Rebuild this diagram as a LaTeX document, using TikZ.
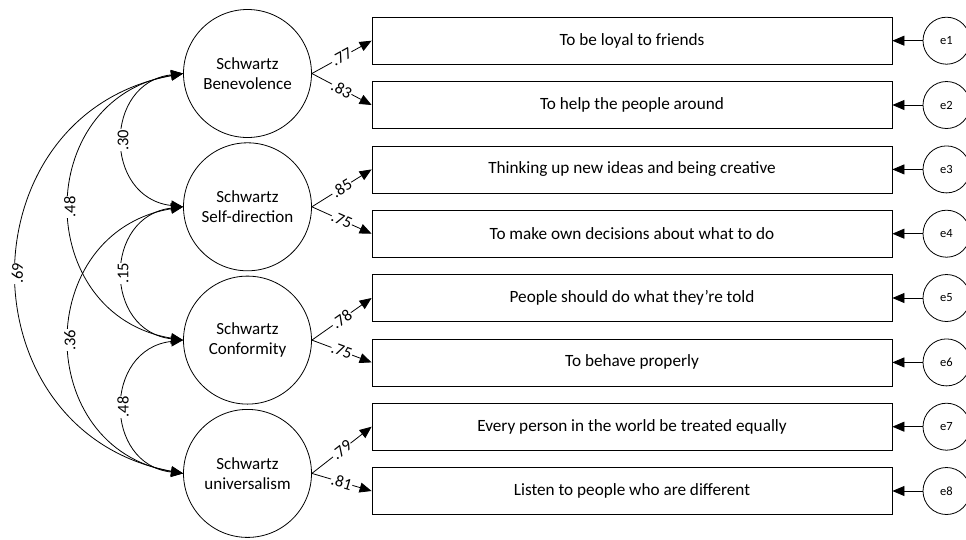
\documentclass[tikz,border=0pt]{standalone}
\usepackage{fontspec}
\setmainfont{Carlito}
\usetikzlibrary{arrows.meta}
\begin{document}
\begin{tikzpicture}[x=1pt,y=-1pt,
  latent/.style={circle, draw, line width=0.8pt, minimum size=128pt, inner sep=0pt,
    align=center, font=\fontsize{17}{20.5}\selectfont},
  item/.style={rectangle, draw, line width=0.8pt, minimum width=520pt, minimum height=47pt,
    inner sep=0pt, font=\fontsize{17.2}{20}\selectfont},
  err/.style={circle, draw, line width=0.8pt, minimum size=47pt, inner sep=0pt,
    font=\fontsize{12.5}{14}\selectfont},
  loading/.style={line width=0.8pt, -{Triangle[length=12pt,width=10pt]}},
  cov/.style={line width=0.8pt, {Triangle[length=12pt,width=10pt]}-{Triangle[length=12pt,width=10pt]}},
  coef/.style={fill=white, inner sep=0.5pt, font=\fontsize{16.5}{17}\selectfont},
]
\clip (0,0) rectangle (966,539);

% latent factors
\node[latent] (f1) at (247.5,73.5)  {Schwartz\\Benevolence};
\node[latent] (f2) at (247.5,206.8) {Schwartz\\Self-direction};
\node[latent] (f3) at (247.5,340.1) {Schwartz\\Conformity};
\node[latent] (f4) at (247.5,473.4) {Schwartz\\universalism};

% observed items
\node[item] (i1) at (632,40.7)  {To be loyal to friends};
\node[item] (i2) at (632,105)   {To help the people around};
\node[item] (i3) at (632,169.4) {Thinking up new ideas and being creative};
\node[item] (i4) at (632,233.7) {To make own decisions about what to do};
\node[item] (i5) at (632,298)   {People should do what they're told};
\node[item] (i6) at (632,362.4) {To behave properly};
\node[item] (i7) at (632,426.7) {Every person in the world be treated equally};
\node[item] (i8) at (632,491)   {Listen to people who are different};

% error terms
\foreach \k/\y in {1/40.7,2/105,3/169.4,4/233.7,5/298,6/362.4,7/426.7,8/491}{
  \node[err] (e\k) at (946.5,\y) {e\k};
  \draw[loading] (e\k.west) -- (i\k.east);
}

% factor loadings
\draw[loading] (f1.east) -- (i1.west) node[coef, sloped, midway] {.77};
\draw[loading] (f1.east) -- (i2.west) node[coef, sloped, midway] {.83};
\draw[loading] (f2.east) -- (i3.west) node[coef, sloped, midway] {.85};
\draw[loading] (f2.east) -- (i4.west) node[coef, sloped, midway] {.75};
\draw[loading] (f3.east) -- (i5.west) node[coef, sloped, midway] {.78};
\draw[loading] (f3.east) -- (i6.west) node[coef, sloped, midway] {.75};
\draw[loading] (f4.east) -- (i7.west) node[coef, sloped, midway] {.79};
\draw[loading] (f4.east) -- (i8.west) node[coef, sloped, midway] {.81};

% factor covariances
\draw[cov] (f1.west) .. controls +(-80,9) and +(-80,-9) .. (f2.west)
  node[coef, pos=0.5, rotate=90] {.30};
\draw[cov] (f2.west) .. controls +(-80,9) and +(-80,-9) .. (f3.west)
  node[coef, pos=0.5, rotate=90] {.15};
\draw[cov] (f3.west) .. controls +(-80,9) and +(-80,-9) .. (f4.west)
  node[coef, pos=0.5, rotate=90] {.48};
\draw[cov] (f1.west) .. controls +(-151,25) and +(-151,-25) .. (f3.west)
  node[coef, pos=0.5, rotate=90] {.48};
\draw[cov] (f2.west) .. controls +(-151,25) and +(-151,-25) .. (f4.west)
  node[coef, pos=0.5, rotate=90] {.36};
\draw[cov] (f1.west) .. controls +(-221,41) and +(-221,-41) .. (f4.west)
  node[coef, pos=0.5, rotate=90] {.69};
\end{tikzpicture}
\end{document}
